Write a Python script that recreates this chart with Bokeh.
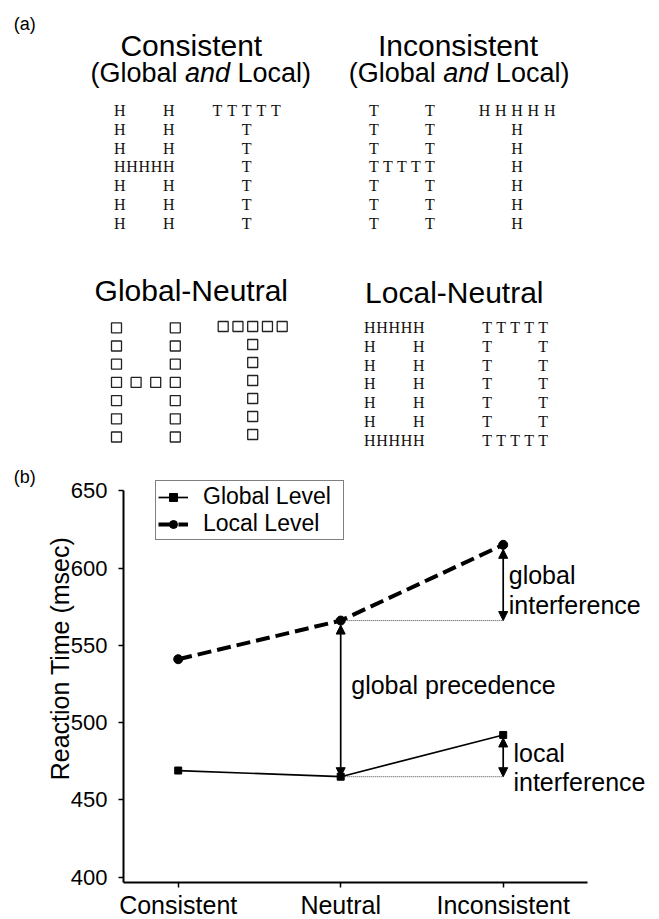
import math
from bokeh.plotting import figure
from bokeh.models import Range1d, FixedTicker, Arrow, NormalHead, Label
from bokeh.core.properties import value
from bokeh.embed import file_html
from bokeh.resources import INLINE

# ---------------- data: panel (a) stimuli ----------------
panel_titles = ["Consistent", "Inconsistent", "Global-Neutral", "Local-Neutral"]
subtitle_parts = ["(Global", "and", "Local)"]
panel_a_label = "(a)"
panel_b_label = "(b)"

H_SHAPE = ["X   X", "X   X", "X   X", "XXXXX", "X   X", "X   X", "X   X"]
T_SHAPE = ["XXXXX", "  X  ", "  X  ", "  X  ", "  X  ", "  X  ", "  X  "]
H4_SHAPE = ["X  X", "X  X", "X  X", "XXXX", "X  X", "X  X", "X  X"]
BOX_SHAPE = ["XXXXX", "X   X", "X   X", "X   X", "X   X", "X   X", "XXXXX"]

stim_shapes = [H_SHAPE, T_SHAPE, H_SHAPE, T_SHAPE, H4_SHAPE, T_SHAPE, BOX_SHAPE, BOX_SHAPE]
stim_elements = ["H", "T", "T", "H", "square", "square", "H", "T"]

# ---------------- data: panel (b) ----------------
conditions = ["Consistent", "Neutral", "Inconsistent"]
global_rt = [469, 465, 492]
local_rt = [541, 566, 615]
y_ticks = [400, 450, 500, 550, 600, 650]
series_names = ["Global Level", "Local Level"]
annot_texts = ["global", "interference", "global precedence", "local", "interference"]
y_title = "Reaction Time (msec)"

# ---------------- layout constants (page pixels) ----------------
W, H = 659, 919
SANS = "Liberation Sans"
SERIF = "Liberation Serif"

CAT_PX = [177.7, 340.2, 502.7]      # page x of the three categories
PX_PER_CAT = CAT_PX[1] - CAT_PX[0]
Y650_PX, Y400_PX = 490.2, 876.7     # page y of the 650 / 400 ticks
S = (Y400_PX - Y650_PX) / 250.0     # px per msec
YAXIS_PX = 123.0                    # page x of the y axis line
XAXIS_PX = 882.0                    # page y of the x axis line
XAXIS_END_PX = 586.7


def xv(px):
    return 1 + (px - CAT_PX[0]) / PX_PER_CAT


def yv(py):
    return 400 + (Y400_PX - py) / S


X_START, X_END = xv(0), xv(W)
Y_START, Y_END = yv(H), yv(0)

# x0, dx, y0, dy for each stimulus (page pixels)
stim_layout = [
    (119.2, 12.3, 110.0, 18.8),
    (217.0, 14.6, 110.0, 18.8),
    (373.3, 14.0, 110.0, 18.8),
    (484.0, 16.3, 110.0, 18.8),
    (116.0, 19.6, 327.3, 18.2),
    (222.7, 14.75, 326.0, 18.0),
    (369.3, 12.25, 327.0, 18.75),
    (486.7, 14.0, 327.0, 18.75),
]
title_pos = [(190.8, 45.0), (457.5, 45.0), (190.8, 290.0), (453.8, 291.7)]
subtitle_left = [(90.0, 72.0), (348.3, 72.0)]

AW = {"(": .333, ")": .333, "G": .778, "l": .222, "o": .556, "b": .556,
      "a": .556, " ": .278, "n": .556, "d": .556, "L": .556, "c": .5}


def tw(s, size):
    return sum(AW[ch] for ch in s) * size


p = figure(width=W, height=H, x_range=Range1d(X_START, X_END), y_range=Range1d(Y_START, Y_END),
           output_backend="svg", toolbar_location=None, min_border=0)
p.outline_line_color = None
p.grid.visible = False
p.extra_x_ranges = {"px": Range1d(0, W)}
p.extra_y_ranges = {"py": Range1d(H, 0)}


def add_texts(xs, ys, texts, font, size, align="center", style="normal", color="black"):
    p.text(x=list(xs), y=list(ys), text=list(texts), x_range_name="px", y_range_name="py",
           text_font=value(font), text_font_size=value(f"{size}px"),
           text_align=align, text_baseline="alphabetic",
           text_font_style=style, text_color=color)


# ---------------- panel (a) ----------------
lx, ly, lt, sqx, sqy = [], [], [], [], []
for shape, el, (x0, dx, y0, dy) in zip(stim_shapes, stim_elements, stim_layout):
    for r, row in enumerate(shape):
        for c, ch in enumerate(row):
            if ch != "X":
                continue
            if el == "square":
                sqx.append(x0 + c * dx)
                sqy.append(y0 + r * dy)
            else:
                lx.append(x0 + c * dx)
                ly.append(y0 + r * dy)
                lt.append(el)

add_texts(lx, ly, lt, SERIF, 16, color="#111111")
p.scatter(x=sqx, y=sqy, x_range_name="px", y_range_name="py", marker="square", size=10,
          fill_color=None, line_color="#222222", line_width=1.3)
add_texts([q[0] for q in title_pos], [q[1] for q in title_pos], panel_titles, SANS, 30)

SUB = 27
for (x0, y0) in subtitle_left:
    sp = tw(" ", SUB)
    w0 = tw(subtitle_parts[0], SUB)
    w1 = tw(subtitle_parts[1], SUB)
    xs_parts = [x0, x0 + w0 + sp, x0 + w0 + sp + w1 + sp]
    for part, xp in zip(subtitle_parts, xs_parts):
        add_texts([xp], [y0], [part], SANS, SUB, align="left",
                  style="italic" if part == "and" else "normal")

add_texts([13.3], [23.5], [panel_a_label], SANS, 18, align="left")
add_texts([13.3], [476.0], [panel_b_label], SANS, 18, align="left")

# y title (rotated)
p.add_layout(Label(x=59.5, y=658.0, x_range_name="px", y_range_name="py", text=y_title,
                   angle=math.pi / 2, text_align="center", text_baseline="alphabetic",
                   text_font=SANS, text_font_size="25px", text_color="black"))

# ---------------- panel (b) ----------------
xs = [i + 1 for i in range(len(conditions))]

p.segment(x0=[xs[1], xs[1]], y0=[global_rt[1], local_rt[1]], x1=[xs[2], xs[2]],
          y1=[global_rt[1], local_rt[1]], line_color="#444444", line_width=1, line_dash="1 1")

p.line(xs, global_rt, line_color="black", line_width=1.7, legend_label=series_names[0])
p.scatter(xs, global_rt, marker="square", size=7, color="black", legend_label=series_names[0])
p.line(xs, local_rt, line_color="black", line_width=4, line_dash="14 6", legend_label=series_names[1])
p.scatter(xs, local_rt, marker="circle", size=9, color="black", legend_label=series_names[1])

off_c = 4.5 / S
off_s = 3.0 / S


def darrow(x, y0, y1):
    p.add_layout(Arrow(x_start=x, y_start=y0, x_end=x, y_end=y1,
                       start=NormalHead(size=9, fill_color="black", line_color="black"),
                       end=NormalHead(size=9, fill_color="black", line_color="black"),
                       line_color="black", line_width=1.7))


darrow(xs[1], local_rt[1] - off_c, global_rt[1])
darrow(xs[2], local_rt[1], local_rt[2] - off_c)
darrow(xs[2], global_rt[1], global_rt[2] - off_s)

# annotation anchors: (x in data, anchor value, pixel offset downward)
mid_prec = (local_rt[1] + global_rt[1]) / 2
annot_anchor = [(3.034, local_rt[2], 30.0), (3.034, local_rt[2], 60.0),
                (2.065, mid_prec, -13.7), (3.063, global_rt[2], 18.3),
                (3.063, global_rt[1], 5.0)]
for t, (ax, av, off) in zip(annot_texts, annot_anchor):
    p.add_layout(Label(x=ax, y=av - off / S, text=t, text_font=SANS, text_font_size="25px",
                       text_color="black", text_align="left", text_baseline="alphabetic"))

# axes (drawn at fixed locations inside the full-canvas frame)
p.xaxis.fixed_location = yv(XAXIS_PX)
p.yaxis.fixed_location = xv(YAXIS_PX)
p.xaxis.ticker = FixedTicker(ticks=xs)
p.xaxis.major_label_overrides = {x: c for x, c in zip(xs, conditions)}
p.xaxis.bounds = (xv(YAXIS_PX), xv(XAXIS_END_PX))
p.yaxis.ticker = FixedTicker(ticks=y_ticks)
p.yaxis.bounds = (yv(XAXIS_PX), 650)
for ax in (p.xaxis, p.yaxis):
    ax.axis_line_color = "black"
    ax.axis_line_width = 2
    ax.major_tick_line_color = "black"
    ax.major_tick_line_width = 1.5
    ax.major_tick_in = 0
    ax.major_tick_out = 5
    ax.minor_tick_line_color = None
    ax.major_label_text_color = "black"
    ax.major_label_text_font = SANS
p.xaxis.major_label_text_font_size = "25px"
p.xaxis.major_label_standoff = 3
p.yaxis.major_label_text_font_size = "22px"
p.yaxis.major_label_standoff = 11

leg = p.legend[0]
leg.location = (155, H - 540)
leg.label_text_font = SANS
leg.label_text_font_size = "23px"
leg.label_text_color = "black"
leg.glyph_width = 30
leg.glyph_height = 20
leg.label_standoff = 15
leg.label_width = 138
leg.padding = 2
leg.spacing = 0
leg.margin = 0
leg.border_line_color = "black"
leg.border_line_width = 1
leg.background_fill_alpha = 1

open("out.html", "w").write(file_html(p, INLINE))
